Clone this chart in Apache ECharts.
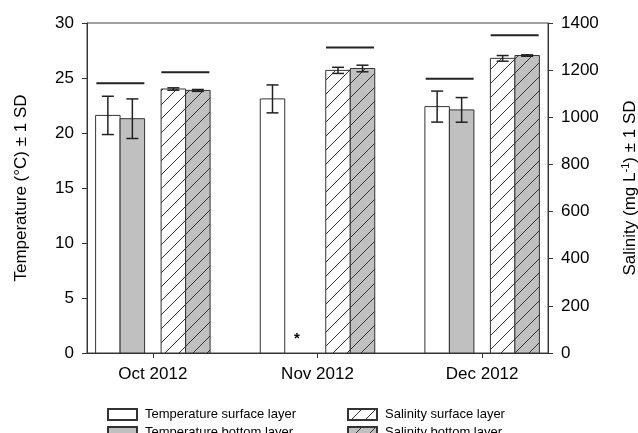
<!DOCTYPE html>
<html><head><meta charset="utf-8">
<script src="https://cdn.jsdelivr.net/npm/echarts@6/dist/echarts.min.js"></script>
<style>html,body{margin:0;padding:0;background:#fff}#c{width:638px;height:433px}</style>
</head><body><div id="c"></div>
<script>
// ---- data ----
const categories = ['Oct 2012', 'Nov 2012', 'Dec 2012'];
const tempSurface   = [21.6, 23.1, 22.4];
const tempSurfaceSD = [1.74, 1.27, 1.41];
const tempBottom    = [21.3, null, 22.1];   // null = no data (*)
const tempBottomSD  = [1.8, null, 1.12];
const salSurface    = [1120, 1199, 1250];
const salSurfaceSD  = [5, 13, 12];
const salBottom     = [1114, 1207, 1262];
const salBottomSD   = [4, 14, 3];
const tempSigLine   = [24.53, null, 24.94];
const salSigLine    = [1191, 1296, 1348];
const tempAxis = {min: 0, max: 30, interval: 5};
const salAxis  = {min: 0, max: 1400, interval: 200};

// ---- styling helpers ----
const FONT = 'Liberation Sans, Arial, sans-serif';
const INK = '#222';
const GRAY = '#c0c0c0';
const BAR_W = 24.5;
const OFFS = [-45, -20.5, 20.5, 45];

function hatch(bg) {
  const s = 14, c = document.createElement('canvas');
  c.width = c.height = s;
  const g = c.getContext('2d');
  g.fillStyle = bg; g.fillRect(0, 0, s, s);
  g.strokeStyle = '#333'; g.lineWidth = 1;
  g.beginPath();
  g.moveTo(-1, s + 1); g.lineTo(s + 1, -1);
  g.moveTo(-1, 1); g.lineTo(1, -1);
  g.moveTo(s - 1, s + 1); g.lineTo(s + 1, s - 1);
  g.stroke();
  return {image: c, repeat: 'repeat'};
}

function toData(vals, sds) {
  const out = [];
  vals.forEach((v, i) => { if (v != null) out.push([i + 1, v, sds[i]]); });
  return out;
}

function barSeries(name, vals, sds, yAxisIndex, off, fill) {
  return {
    name, type: 'custom', yAxisIndex,
    itemStyle: {color: fill, borderColor: '#333', borderWidth: 1},
    encode: {x: 0, y: 1},
    data: toData(vals, sds),
    z: 2,
    renderItem(params, api) {
      const x = api.value(0), v = api.value(1), sd = api.value(2);
      const top = api.coord([x, v]);
      const base = api.coord([x, 0]);
      const cx = top[0] + off;
      const hi = api.coord([x, v + sd])[1];
      const lo = api.coord([x, v - sd])[1];
      const cap = 6;
      const ls = {stroke: INK, lineWidth: 1.5};
      return {type: 'group', children: [
        {type: 'rect', shape: {x: cx - BAR_W / 2, y: top[1], width: BAR_W, height: base[1] - top[1]},
         style: {fill: fill, stroke: '#333', lineWidth: 1}},
        {type: 'line', shape: {x1: cx, y1: hi, x2: cx, y2: lo}, style: ls},
        {type: 'line', shape: {x1: cx - cap, y1: hi, x2: cx + cap, y2: hi}, style: ls},
        {type: 'line', shape: {x1: cx - cap, y1: lo, x2: cx + cap, y2: lo}, style: ls}
      ]};
    }
  };
}

function sigSeries(vals, yAxisIndex, left, right) {
  const data = [];
  vals.forEach((v, i) => { if (v != null) data.push([i + 1, v]); });
  return {
    type: 'custom', yAxisIndex, data, encode: {x: 0, y: 1}, silent: true,
    renderItem(params, api) {
      const p = api.coord([api.value(0), api.value(1)]);
      return {type: 'line', shape: {x1: p[0] + left, y1: p[1], x2: p[0] + right, y2: p[1]},
              style: {stroke: INK, lineWidth: 2}};
    }
  };
}

const missing = [];
tempBottom.forEach((v, i) => { if (v == null) missing.push([i + 1, 0]); });

const tickPos = categories.map((_, i) => i + 1);

const axisCommon = {
  axisLine: {show: true, lineStyle: {color: '#333', width: 1}},
  axisTick: {show: true, length: 5, lineStyle: {color: '#333'}},
  splitLine: {show: false},
  axisLabel: {color: '#000', fontSize: 17, fontFamily: FONT, margin: 13, formatter: v => String(v)},
  nameTextStyle: {color: '#000', fontSize: 17, fontFamily: FONT},
  nameLocation: 'middle', nameRotate: 90
};

const legendCommon = {
  orient: 'vertical', top: 403, height: 80,
  icon: 'rect', itemWidth: 29, itemHeight: 11, itemGap: 5, selectedMode: false,
  textStyle: {fontSize: 13, fontFamily: FONT, color: '#000', padding: [0, 0, 0, 3]}
};

const option = {
  backgroundColor: '#fff',
  animation: false,
  grid: {left: 87, right: 90, top: 23, bottom: 80, containLabel: false, outerBoundsMode: 'none',
         show: true, borderColor: '#444', borderWidth: 1, backgroundColor: 'transparent'},
  xAxis: {
    type: 'value', min: 0.6, max: 3.4,
    axisLine: {show: true, lineStyle: {color: '#333'}},
    axisTick: {show: true, length: 5, customValues: tickPos, lineStyle: {color: '#333'}},
    axisLabel: {customValues: tickPos, color: '#000', fontSize: 17, fontFamily: FONT, margin: 13,
                formatter: v => categories[Math.round(v) - 1]},
    splitLine: {show: false}
  },
  yAxis: [
    Object.assign({}, axisCommon, {type: 'value', position: 'left', min: tempAxis.min, max: tempAxis.max, interval: tempAxis.interval,
      name: 'Temperature (°C) ± 1 SD', nameGap: 57}),
    Object.assign({}, axisCommon, {type: 'value', position: 'right', min: salAxis.min, max: salAxis.max, interval: salAxis.interval,
      name: 'Salinity (mg L{sup|-1}) ± 1 SD', nameGap: 72,
      nameTextStyle: {color: '#000', fontSize: 17, fontFamily: FONT,
        rich: {sup: {fontSize: 11, fontFamily: FONT, color: '#000', verticalAlign: 'top', lineHeight: 20}}}})
  ],
  legend: [
    Object.assign({}, legendCommon, {data: ['Temperature surface layer', 'Temperature bottom layer'], left: 102}),
    Object.assign({}, legendCommon, {data: ['Salinity surface layer', 'Salinity bottom layer'], left: 342})
  ],
  series: [
    barSeries('Temperature surface layer', tempSurface, tempSurfaceSD, 0, OFFS[0], '#ffffff'),
    barSeries('Temperature bottom layer', tempBottom, tempBottomSD, 0, OFFS[1], GRAY),
    barSeries('Salinity surface layer', salSurface, salSurfaceSD, 1, OFFS[2], hatch('#ffffff')),
    barSeries('Salinity bottom layer', salBottom, salBottomSD, 1, OFFS[3], hatch(GRAY)),
    sigSeries(tempSigLine, 0, -56.5, -8.5),
    sigSeries(salSigLine, 1, 8.5, 56.5),
    {
      type: 'custom', yAxisIndex: 0, data: missing, encode: {x: 0, y: 1}, silent: true,
      renderItem(params, api) {
        const p = api.coord([api.value(0), api.value(1)]);
        return {type: 'text', x: p[0] + OFFS[1], y: p[1] - 14,
          style: {text: '*', font: 'bold 15px ' + FONT, fill: '#000', align: 'center', verticalAlign: 'middle'}};
      }
    }
  ]
};

const chart = echarts.init(document.getElementById('c'), null, {renderer: 'canvas'});
chart.setOption(option);
</script>
</body></html>
